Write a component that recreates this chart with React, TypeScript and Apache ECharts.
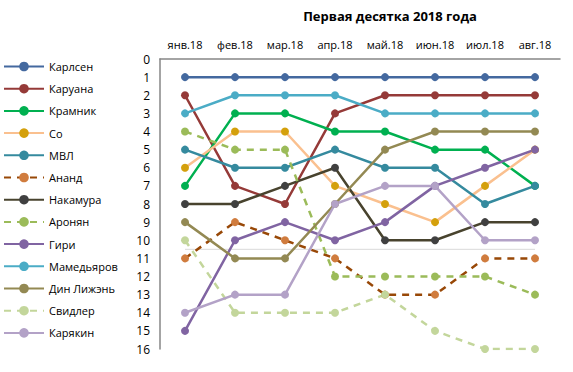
import React, { useEffect, useRef } from "react";
import * as echarts from "echarts";

const months = ["янв.18", "фев.18", "мар.18", "апр.18", "май.18", "июн.18", "июл.18", "авг.18"];
const yTicks = [0, 16];

const carlsen = [1, 1, 1, 1, 1, 1, 1, 1];
const caruana = [2, 7, 8, 3, 2, 2, 2, 2];
const kramnik = [7, 3, 3, 4, 4, 5, 5, 7];
const so = [6, 4, 4, 7, 8, 9, 7, 5];
const mvl = [5, 6, 6, 5, 6, 6, 8, 7];
const anand = [11, 9, 10, 11, 13, 13, 11, 11];
const nakamura = [8, 8, 7, 6, 10, 10, 9, 9];
const aronian = [4, 5, 5, 12, 12, 12, 12, 13];
const giri = [15, 10, 9, 10, 9, 7, 6, 5];
const mamedyarov = [3, 2, 2, 2, 3, 3, 3, 3];
const ding = [9, 11, 11, 8, 5, 4, 4, 4];
const svidler = [10, 14, 14, 14, 13, 15, 16, 16];
const karjakin = [14, 13, 13, 8, 7, 7, 10, 10];
const separator = [10.5, 10.5, 10.5, 10.5, 10.5, 10.5, 10.5, 10.5];

const FONT = "Open Sans";

type S = { name: string; data: number[]; line: string; marker: string; dashed?: boolean };
const seriesDefs: S[] = [
  { name: "Карлсен", data: carlsen, line: "#44699f", marker: "#44699f" },
  { name: "Каруана", data: caruana, line: "#953a38", marker: "#953a38" },
  { name: "Крамник", data: kramnik, line: "#00b050", marker: "#00b050" },
  { name: "Со", data: so, line: "#fac08f", marker: "#d4a00c" },
  { name: "МВЛ", data: mvl, line: "#358a9e", marker: "#358a9e" },
  { name: "Ананд", data: anand, line: "#984807", marker: "#d07c3e", dashed: true },
  { name: "Накамура", data: nakamura, line: "#48432e", marker: "#404040" },
  { name: "Аронян", data: aronian, line: "#9bbb59", marker: "#9bbb59", dashed: true },
  { name: "Гири", data: giri, line: "#8064a2", marker: "#8064a2" },
  { name: "Мамедьяров", data: mamedyarov, line: "#4bacc6", marker: "#4bacc6" },
  { name: "Дин Лижэнь", data: ding, line: "#938953", marker: "#938953" },
  { name: "Свидлер", data: svidler, line: "#c3d69b", marker: "#c3d69b", dashed: true },
  { name: "Карякин", data: karjakin, line: "#b3a2c7", marker: "#b3a2c7" },
];

export default function App() {
  const ref = useRef<HTMLDivElement>(null);
  useEffect(() => {
    if (!ref.current) return;
    const chart = echarts.init(ref.current, null, { renderer: "svg" });
    const series: any[] = [
      {
        name: "sep",
        type: "line",
        data: separator,
        symbol: "none",
        silent: true,
        lineStyle: { color: "#d9d9d9", width: 1 },
        z: 1,
      },
      ...seriesDefs.map((s) => ({
        name: s.name,
        type: "line",
        data: s.data,
        symbol: "circle",
        symbolSize: 8,
        showSymbol: true,
        lineStyle: { color: s.line, width: 2.5, type: s.dashed ? [7, 6] : "solid" },
        itemStyle: { color: s.marker, borderWidth: 0 },
        z: 2,
      })),
    ];
    chart.setOption({
      animation: false,
      backgroundColor: "#ffffff",
      textStyle: { fontFamily: FONT },
      title: {
        text: "Первая десятка 2018 года",
        left: 385,
        textAlign: "center",
        top: 4,
        textStyle: { fontFamily: FONT, fontSize: 13, fontWeight: "bold", color: "#000" },
      },
      legend: {
        orient: "vertical",
        left: 3,
        top: 61,
        padding: 0,
        data: seriesDefs.map((s) => s.name),
        itemWidth: 40,
        itemHeight: 12,
        itemGap: 11.2,
        textStyle: { fontFamily: FONT, fontSize: 11, color: "#000", padding: [0, 0, 0, 0] },
        selectedMode: false,
      },
      grid: { left: 160, right: 13, top: 59, bottom: 23 },
      xAxis: {
        type: "category",
        data: months,
        position: "top",
        boundaryGap: true,
        axisLine: { show: true, lineStyle: { color: "#868686", width: 1.5 } },
        axisTick: { show: false },
        axisLabel: { fontFamily: FONT, fontSize: 11, color: "#000", margin: 9, interval: 0 },
      },
      yAxis: {
        type: "value",
        inverse: true,
        min: yTicks[0],
        max: yTicks[1],
        interval: 1,
        axisLine: { show: true, lineStyle: { color: "#868686", width: 1.5 } },
        axisTick: { show: false },
        splitLine: { show: false },
        axisLabel: { fontFamily: FONT, fontSize: 12, color: "#000", margin: 10 },
      },
      series,
    });
    return () => chart.dispose();
  }, []);
  return <div ref={ref} style={{ width: 573, height: 372, position: "absolute", left: 0, top: 0 }} />;
}
